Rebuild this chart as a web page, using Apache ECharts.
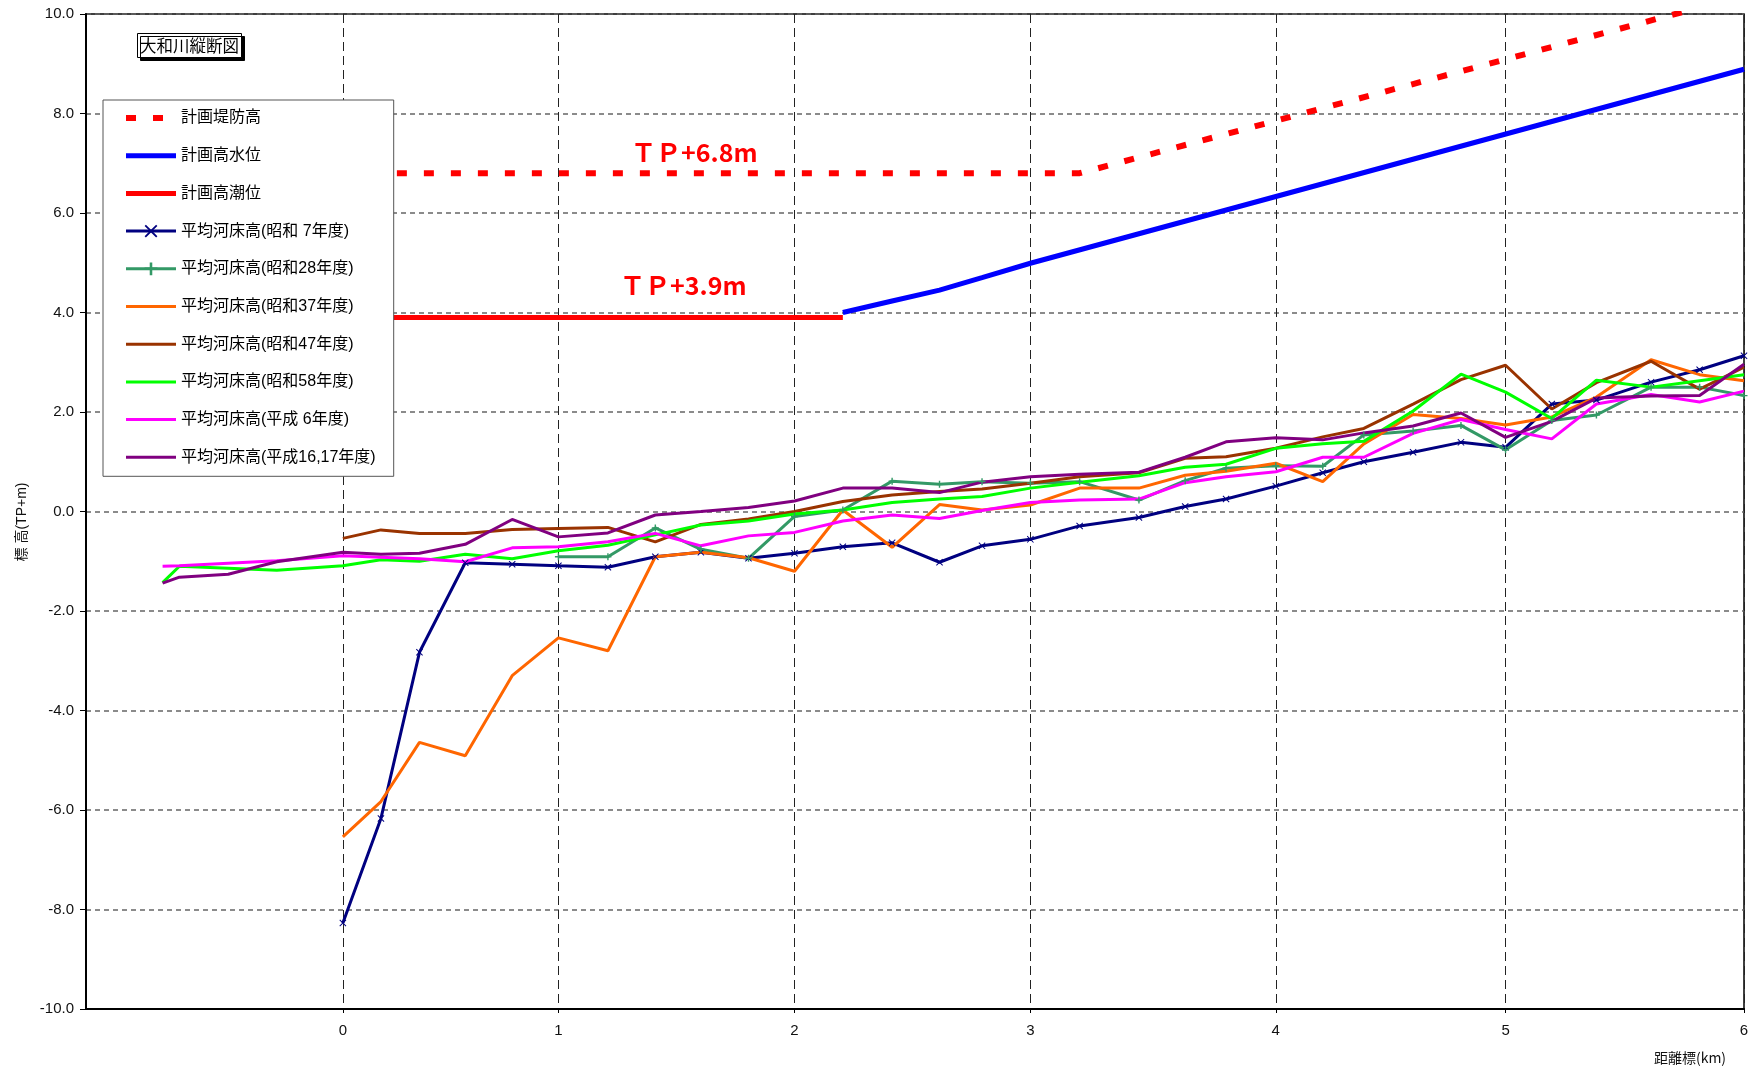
<!DOCTYPE html>
<html><head><meta charset="utf-8">
<script src="https://cdn.jsdelivr.net/npm/echarts@6/dist/echarts.min.js"></script>
<style>html,body{margin:0;padding:0;background:#fff}#c{width:1758px;height:1070px}</style>
</head><body><div id="c"></div>
<script>
// section distances (axis units) of each surveyed cross-section
const dist = [-0.772, -0.700, -0.491, -0.283, 0.000, 0.163, 0.328, 0.524, 0.725, 0.923,
  1.135, 1.338, 1.533, 1.737, 1.934, 2.141, 2.352, 2.555, 2.737, 2.944,
  3.155, 3.409, 3.607, 3.782, 3.995, 4.196, 4.372, 4.583, 4.788, 4.979,
  5.177, 5.368, 5.602, 5.810, 6.000];
// distance-marker posts (tick labels)
const markerDist = [0, 0.923, 1.934, 2.944, 3.995, 4.979, 6.0];
const markerLabels = ['0', '1', '2', '3', '4', '5', '6'];

// average river-bed heights
const bedS7 = [null, null, null, null, -8.27, -6.17, -2.83, -1.03, -1.06, -1.09,
  -1.12, -0.91, -0.82, -0.94, -0.84, -0.71, -0.63, -1.02, -0.69, -0.56,
  -0.29, -0.12, 0.10, 0.25, 0.51, 0.78, 1.00, 1.19, 1.39, 1.29,
  2.16, 2.24, 2.60, 2.85, 3.13];
const bedS28 = [null, null, null, null, null, null, null, null, null, -0.91,
  -0.91, -0.33, -0.76, -0.94, -0.10, 0.03, 0.61, 0.55, 0.60, 0.57,
  0.60, 0.23, 0.62, 0.87, 0.92, 0.91, 1.54, 1.62, 1.73, 1.24,
  1.83, 1.94, 2.50, 2.50, 2.33];
const bedS37 = [null, null, null, null, -6.54, -5.83, -4.64, -4.91, -3.30, -2.54,
  -2.80, -0.91, -0.82, -0.93, -1.20, 0.03, -0.72, 0.14, 0.03, 0.13,
  0.47, 0.47, 0.73, 0.81, 0.97, 0.60, 1.36, 1.95, 1.87, 1.74,
  1.90, 2.30, 3.05, 2.75, 2.63];
const bedS47 = [null, null, null, null, -0.54, -0.37, -0.44, -0.44, -0.36, -0.34,
  -0.32, -0.61, -0.26, -0.15, 0.00, 0.20, 0.33, 0.40, 0.45, 0.57,
  0.70, 0.78, 1.07, 1.10, 1.27, 1.50, 1.67, 2.16, 2.65, 2.94,
  2.06, 2.59, 3.02, 2.46, 2.90];
const bedS58 = [-1.43, -1.10, -1.14, -1.18, -1.09, -0.97, -1.00, -0.86, -0.95, -0.79,
  -0.68, -0.47, -0.27, -0.19, -0.05, 0.03, 0.18, 0.25, 0.30, 0.47,
  0.59, 0.72, 0.89, 0.95, 1.27, 1.36, 1.41, 2.02, 2.76, 2.40,
  1.87, 2.64, 2.50, 2.63, 2.75];
const bedH6 = [-1.10, -1.09, -1.04, -0.99, -0.89, -0.92, -0.95, -1.01, -0.73, -0.71,
  -0.61, -0.44, -0.69, -0.49, -0.42, -0.19, -0.07, -0.14, 0.02, 0.18,
  0.23, 0.25, 0.58, 0.70, 0.80, 1.09, 1.09, 1.57, 1.85, 1.65,
  1.46, 2.16, 2.35, 2.20, 2.42];
const bedH16 = [-1.44, -1.32, -1.26, -1.01, -0.82, -0.86, -0.84, -0.66, -0.16, -0.51,
  -0.43, -0.07, 0.00, 0.08, 0.21, 0.47, 0.47, 0.38, 0.59, 0.70,
  0.75, 0.79, 1.09, 1.40, 1.48, 1.44, 1.58, 1.72, 1.98, 1.49,
  1.81, 2.28, 2.32, 2.33, 2.96];

// planned lines
const leveeDist = [0, 3.155, 6.0];
const leveeVal = [6.8, 6.8, 10.37];
const hwlDist = [2.141, 2.352, 2.555, 2.737, 2.944, 6.0];
const hwlVal = [4.0, 4.23, 4.45, 4.70, 4.99, 8.89];
const tideDist = [0, 2.141];
const tideVal = [3.9, 3.9];

const names = ['計画堤防高', '計画高水位', '計画高潮位',
  '平均河床高(昭和 7年度)', '平均河床高(昭和28年度)', '平均河床高(昭和37年度)',
  '平均河床高(昭和47年度)', '平均河床高(昭和58年度)', '平均河床高(平成 6年度)', '平均河床高(平成16,17年度)'];
const withMarker = [false, false, false, true, true, false, false, false, false, false];
const legendLineW = [6, 5, 5, 3, 3, 3, 3, 3, 3, 3];

function pairs(xs, ys) {
  const out = [];
  for (let i = 0; i < xs.length; i++) if (ys[i] !== null) out.push([xs[i], ys[i]]);
  return out;
}
const X_SYM = 'path://M0,1L1,0L5,4L9,0L10,1L6,5L10,9L9,10L5,6L1,10L0,9L4,5Z';
const PLUS_SYM = 'path://M4,0H6V4H10V6H6V10H4V6H0V4H4Z';
const FONT_LAT = "'Liberation Sans', 'Noto Sans CJK JP', sans-serif";
const FONT_JP = "'Noto Sans CJK JP', sans-serif";

function bed(name, ys, color, sym) {
  return {
    name: name, type: 'line', data: pairs(dist, ys),
    symbol: sym || 'none', symbolSize: 7, showSymbol: !!sym,
    lineStyle: { color: color, width: 3 },
    itemStyle: { color: color },
    emphasis: { disabled: true }
  };
}

const legendData = names.map(function (n, i) {
  return { name: n, itemStyle: { opacity: withMarker[i] ? 1 : 0 }, lineStyle: { width: legendLineW[i] } };
});

const chart = echarts.init(document.getElementById('c'), null, { renderer: 'canvas' });
chart.setOption({
  animation: false,
  backgroundColor: '#ffffff',
  title: {
    text: '大和川縦断図', left: 137, top: 33,
    padding: [4, 3, 4, 3],
    backgroundColor: '#ffffff', borderColor: '#000', borderWidth: 1,
    shadowColor: '#000', shadowOffsetX: 3, shadowOffsetY: 3, shadowBlur: 0,
    textStyle: { fontFamily: FONT_JP, fontSize: 16.5, fontWeight: 'normal', color: '#000' }
  },
  grid: { left: 86, right: 14, top: 14, bottom: 61, show: true, borderColor: '#000', borderWidth: 1.5 },
  legend: {
    orient: 'vertical', left: 103, top: 100,
    padding: [10, 18, 11, 20],
    itemWidth: 50, itemHeight: 16, itemGap: 21.7,
    backgroundColor: '#ffffff', borderColor: '#555', borderWidth: 1,
    textStyle: { fontFamily: FONT_LAT, fontSize: 16, color: '#000' },
    data: legendData
  },
  xAxis: {
    type: 'value', min: -1.1, max: 6.0,
    axisLine: { show: true, onZero: false, lineStyle: { color: '#000', width: 2 } },
    axisTick: { show: true, customValues: markerDist, length: 4, lineStyle: { color: '#000' } },
    axisLabel: {
      customValues: markerDist, margin: 14,
      fontFamily: FONT_LAT, fontSize: 15, color: '#111',
      formatter: function (v) {
        let best = 0;
        for (let i = 0; i < markerDist.length; i++)
          if (Math.abs(markerDist[i] - v) < Math.abs(markerDist[best] - v)) best = i;
        return markerLabels[best];
      }
    },
    splitLine: { show: true, lineStyle: { color: '#222', width: 1, type: [9, 5] } }
  },
  yAxis: {
    type: 'value', min: -10, max: 10, interval: 2,
    axisLine: { show: true, onZero: false, lineStyle: { color: '#000', width: 2 } },
    axisTick: { show: true, length: 6, lineStyle: { color: '#000' } },
    axisLabel: { margin: 12, fontFamily: FONT_LAT, fontSize: 15, color: '#111',
      formatter: function (v) { return v.toFixed(1); } },
    splitLine: { show: true, lineStyle: { color: '#666', width: 1.5, type: [5, 4] } }
  },
  graphic: [
    { type: 'text', x: 631, y: 152, style: { text: 'ＴＰ+6.8m', fill: '#ff0000',
      font: "bold 25px 'Noto Sans CJK JP', sans-serif", textAlign: 'left', textVerticalAlign: 'middle' } },
    { type: 'text', x: 620, y: 285, style: { text: 'ＴＰ+3.9m', fill: '#ff0000',
      font: "bold 25px 'Noto Sans CJK JP', sans-serif", textAlign: 'left', textVerticalAlign: 'middle' } },
    { type: 'text', x: 22, y: 522, rotation: Math.PI / 2, style: { text: '標 高(TP+m)', fill: '#111',
      font: "14px 'Liberation Sans', 'Noto Sans CJK JP', sans-serif", textAlign: 'center', textVerticalAlign: 'middle' } },
    { type: 'text', x: 1690, y: 1058, style: { text: '距離標(km)', fill: '#111',
      font: "14px 'Noto Sans CJK JP', sans-serif", textAlign: 'center', textVerticalAlign: 'middle' } }
  ],
  series: [
    { name: names[0], type: 'line', data: pairs(leveeDist, leveeVal), symbol: 'none',
      lineStyle: { color: '#ff0000', width: 6, type: [10, 17] }, itemStyle: { color: '#ff0000' }, emphasis: { disabled: true } },
    { name: names[1], type: 'line', data: pairs(hwlDist, hwlVal), symbol: 'none',
      lineStyle: { color: '#0000ff', width: 5 }, itemStyle: { color: '#0000ff' }, emphasis: { disabled: true } },
    { name: names[2], type: 'line', data: pairs(tideDist, tideVal), symbol: 'none',
      lineStyle: { color: '#ff0000', width: 5 }, itemStyle: { color: '#ff0000' }, emphasis: { disabled: true } },
    bed(names[3], bedS7, '#000080', X_SYM),
    bed(names[4], bedS28, '#339966', PLUS_SYM),
    bed(names[5], bedS37, '#ff6600'),
    bed(names[6], bedS47, '#993300'),
    bed(names[7], bedS58, '#00ff00'),
    bed(names[8], bedH6, '#ff00ff'),
    bed(names[9], bedH16, '#800080')
  ]
});
</script>
</body></html>
